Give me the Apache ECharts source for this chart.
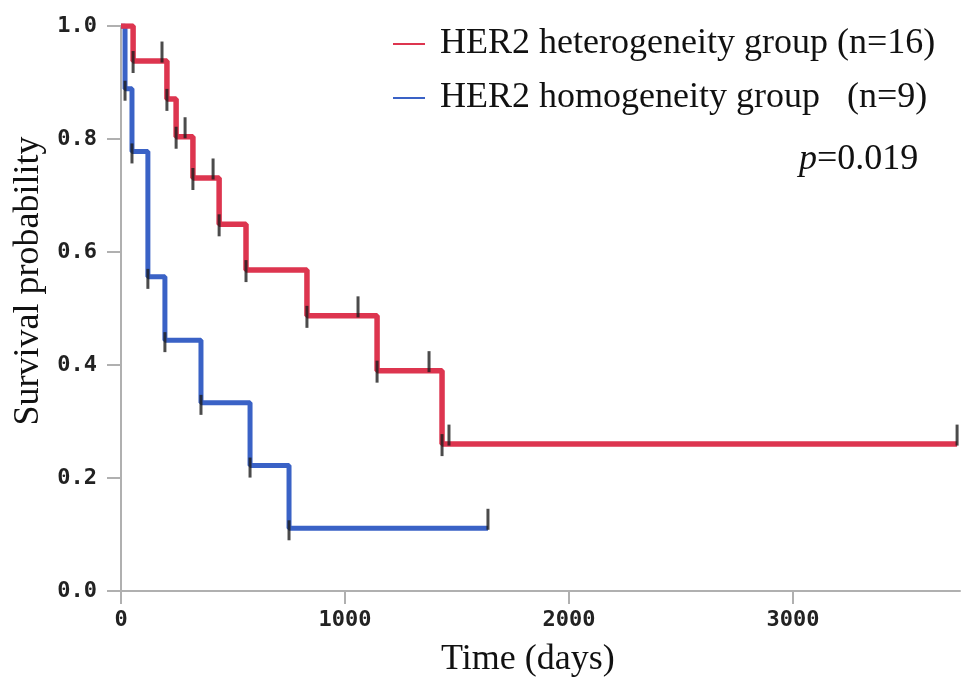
<!DOCTYPE html>
<html><head><meta charset="utf-8">
<script src="https://cdn.jsdelivr.net/npm/echarts@6/dist/echarts.min.js"></script>
<style>html,body{margin:0;padding:0;background:#fff}#c{width:961px;height:677px}</style>
</head><body><div id="c"></div>
<script>
// Kaplan-Meier data
const heteroTimes = [0, 54, 205, 246, 321, 438, 558, 830, 1143, 1433];
const heteroSurv = [1.0, 0.938, 0.871, 0.804, 0.731, 0.649, 0.568, 0.487, 0.390, 0.260];
const heteroCensor = [183, 286, 411, 1058, 1375, 1464, 3732];

const homoTimes = [0, 18, 49, 120, 196, 357, 576, 750];
const homoSurv = [1.0, 0.889, 0.778, 0.556, 0.444, 0.333, 0.222, 0.111];
const homoCensor = [1638];

const xTickValues = [0, 1000, 2000, 3000];
const yTickValues = [0.0, 0.2, 0.4, 0.6, 0.8, 1.0];
const seriesNames = ['HER2 heterogeneity group (n=16)', 'HER2 homogeneity group   (n=9)'];
const xTitle = 'Time (days)';
const yTitle = 'Survival probability';
const pLabel = 'p';
const pValue = '=0.019';

const RED = '#dd354f';
const BLUE = '#3a62c6';
const MARK = '#1e1e1e';

function levelAt(times, surv, t) {
  let v = surv[0];
  for (let i = 0; i < times.length; i++) { if (times[i] <= t) v = surv[i]; }
  return v;
}
function curve(times, surv, censor) {
  const d = times.map((t, i) => [t, surv[i]]);
  const lastC = Math.max.apply(null, censor);
  if (lastC > times[times.length - 1]) d.push([lastC, surv[surv.length - 1]]);
  return d;
}
function events(times, surv) {
  return times.slice(1).map((t, i) => [t, surv[i + 1]]);
}
function censors(times, surv, censor) {
  return censor.map(t => [t, levelAt(times, surv, t)]);
}

const chart = echarts.init(document.getElementById('c'), null, {renderer: 'canvas'});
const tickFont = {fontFamily: 'DejaVu Sans Mono', fontWeight: 'bold', fontSize: 22, color: '#222'};
const serif = '"Liberation Serif", "Times New Roman", serif';
const markSeries = (data, off, size) => ({
  type: 'scatter', data: data, symbol: 'rect', symbolSize: [3, size], symbolOffset: [0, off],
  itemStyle: {color: MARK}, z: 5, silent: true, animation: false
});

chart.setOption({
  animation: false,
  grid: {left: 121, right: 1, top: 26, bottom: 86, containLabel: false},
  xAxis: {
    type: 'value', min: 0, max: 3745, interval: 1000,
    axisLine: {show: true, lineStyle: {color: '#b0b0b0', width: 2}},
    axisTick: {show: true, inside: false, length: 13, customValues: xTickValues, lineStyle: {color: '#b0b0b0', width: 2}},
    axisLabel: Object.assign({margin: 18, customValues: xTickValues, formatter: v => String(v)}, tickFont),
    splitLine: {show: false}
  },
  yAxis: {
    type: 'value', min: 0, max: 1, interval: 0.2,
    axisLine: {show: true, lineStyle: {color: '#b0b0b0', width: 2}},
    axisTick: {show: true, inside: false, length: 14, customValues: yTickValues, lineStyle: {color: '#b0b0b0', width: 2}},
    axisLabel: Object.assign({margin: 24, customValues: yTickValues, formatter: v => v.toFixed(1)}, tickFont),
    splitLine: {show: false}
  },
  legend: {
    data: seriesNames, orient: 'vertical', left: 388, top: 19,
    icon: 'rect', itemWidth: 32, itemHeight: 2, itemGap: 14,
    textStyle: {fontFamily: serif, fontSize: 36, color: '#111', lineHeight: 40, padding: [0, 0, 0, 10]},
    selectedMode: false
  },
  graphic: [
    {type: 'text', left: 441, top: 642, style: {text: xTitle, font: '36px ' + serif, fill: '#111'}},
    {type: 'text', x: 11, y: 281, rotation: Math.PI / 2, style: {text: yTitle, font: '36px ' + serif, fill: '#111', textAlign: 'center', textVerticalAlign: 'top'}},
    {type: 'text', left: 799, top: 142, style: {
      text: '{i|' + pLabel + '}{n|' + pValue + '}',
      rich: {i: {font: 'italic 36px ' + serif, fill: '#111'}, n: {font: '36px ' + serif, fill: '#111'}}
    }}
  ],
  series: [
    {name: seriesNames[0], type: 'line', step: 'end', data: curve(heteroTimes, heteroSurv, heteroCensor),
     showSymbol: false, symbol: 'none', lineStyle: {color: RED, width: 5.5}, itemStyle: {color: RED}, z: 3},
    {name: seriesNames[1], type: 'line', step: 'end', data: curve(homoTimes, homoSurv, homoCensor),
     showSymbol: false, symbol: 'none', lineStyle: {color: BLUE, width: 5}, itemStyle: {color: BLUE}, z: 2},
    markSeries(events(heteroTimes, heteroSurv), 1, 22),
    markSeries(events(homoTimes, homoSurv), 2, 20),
    markSeries(censors(heteroTimes, heteroSurv, heteroCensor), -9, 21),
    markSeries(censors(homoTimes, homoSurv, homoCensor), -9, 21)
  ]
});
</script></body></html>
